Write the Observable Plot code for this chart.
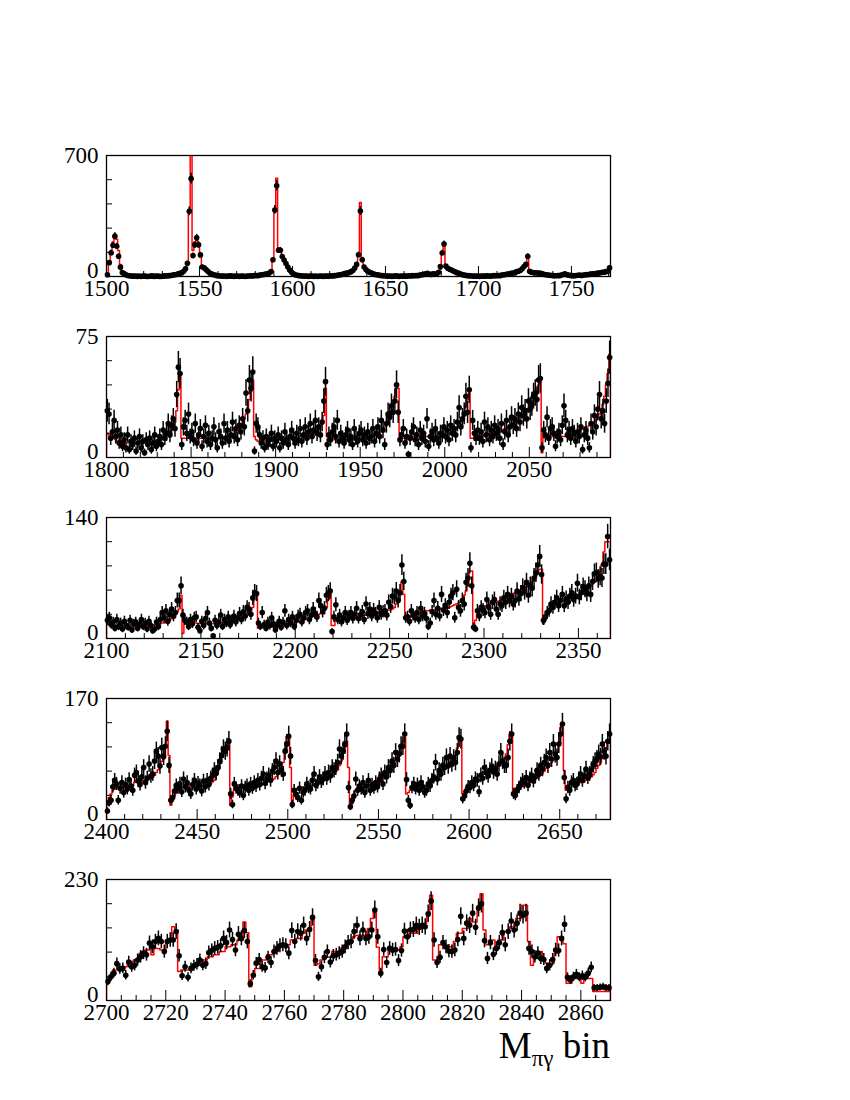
<!DOCTYPE html>
<html><head><meta charset="utf-8">
<script src="https://cdn.jsdelivr.net/npm/d3@7"></script>
<script src="https://cdn.jsdelivr.net/npm/@observablehq/plot@0.6"></script>
<style>
body{margin:0;background:#fff;}
#chart{position:relative;width:850px;height:1100px;padding-top:145px;box-sizing:border-box;}
#chart svg{display:block;}
</style></head><body><div id="chart"></div>
<script>
// ---- Panel 1: bins 1500..1770
const start1 = 1500, end1 = 1771, ymax1 = 700;
const xticks1 = [1500,1550,1600,1650,1700,1750];
const data1 = [10,80,136,181,233,175,117,54,23,15, 10,6,4,3,2,3,1,2,0,2, 3,1,0,2,4,1,2,3,1,0, 2,4,3,5,6,8,10,12,15,18,
 22,30,45,76,377,566,121,183,224,183, 125,55,50,40,30,20,15,10,8,5, 4,3,2,3,1,2,4,2,1,3, 2,1,3,2,0,2,3,4,3,5,
 6,5,8,10,12,14,16,20,29,97, 385,525,152,152,115,95,75,55,38,25, 15,10,7,5,4,3,2,3,1,2, 3,1,2,0,2,3,1,2,3,2,
 4,3,5,6,8,10,12,15,18,20, 23,28,35,49,70,126,379,97,55,40, 30,25,20,15,12,10,8,6,5,4, 3,2,3,1,2,4,2,1,3,2,
 3,2,4,3,5,4,6,5,8,10, 12,15,18,14,12,15,14,15,25,58, 136,188,60,48,42,38,32,27,22,18, 14,10,8,6,5,4,3,2,3,2,
 1,2,3,2,4,3,2,4,5,4, 6,5,8,10,12,14,16,18,20,22, 28,30,35,45,58,70,117,30,25,23, 22,20,20,18,15,12,10,8,7,6,
 5,4,6,5,8,12,15,10,8,6, 5,4,6,7,8,6,9,10,11,12, 14,15,15,18,20,22,25,25,28,30, 50];
const fit1 = [20,90,150,200,245,215,150,70,30,15, 8,5,4,3,3,2,2,2,2,2, 2,2,2,2,2,2,2,2,2,2, 3,3,4,4,5,6,7,9,11,14,
 18,25,40,80,380,720,150,200,230,190, 120,60,45,35,26,19,14,10,7,5, 4,3,3,2,2,2,2,2,2,2, 2,2,2,3,3,3,4,4,5,6,
 7,8,9,11,13,15,17,20,30,100, 390,568,160,150,120,95,72,52,36,24, 15,10,7,5,4,3,3,2,2,2, 2,2,2,2,2,3,3,3,4,4,
 5,6,7,8,10,11,13,15,17,20, 22,25,30,45,70,130,428,110,60,42, 32,24,18,12,10,8,6,5,4,3, 3,3,3,3,3,3,3,3,4,4,
 4,5,5,6,6,7,8,9,10,11, 12,13,14,15,16,17,18,20,30,40, 135,190,55,50,42,36,30,25,20,16, 12,10,8,6,5,4,4,3,3,3,
 3,3,4,4,4,5,5,6,6,7, 8,9,10,11,12,14,15,17,19,21, 24,27,30,40,55,70,110,35,28,24, 21,19,17,15,13,12,10,9,8,7,
 7,6,6,6,7,7,8,8,9,9, 10,10,11,11,12,12,13,14,14,15, 16,17,18,19,20,22,24,26,28,32, 55];

// ---- Panel 2: bins 1800..2097
const start2 = 1800, end2 = 2098, ymax2 = 75;
const xticks2 = [1800,1850,1900,1950,2000,2050];
const data2 = [29,27,12,16,23,13,17,9,14,7, 11,6,14,5,10,8,12,4,9,13, 6,10,3,11,8,12,5,9,14,7, 10,13,8,17,12,15,21,14,20,24,
 18,39,56,52,8,19,23,15,27,13, 16,11,21,9,14,18,7,13,20,10, 15,8,12,19,11,6,16,13,9,21, 12,17,10,14,22,13,18,11,20,16,
 24,19,40,29,48,43,53,4,21,19, 14,9,12,6,13,8,11,15,7,12, 10,14,6,12,9,16,11,8,13,17, 12,9,15,11,18,10,14,19,12,16,
 21,13,17,23,15,19,14,22,35,47, 8,14,11,16,19,13,23,10,15,12, 9,14,17,11,13,8,18,12,10,15, 17,11,14,9,16,12,13,18,10,15,
 19,13,23,17,8,21,27,25,32,28, 35,45,28,11,14,18,9,13,2,12, 16,19,11,14,8,17,12,15,10,24, 7,13,16,11,18,12,9,15,14,19,
 13,17,11,20,15,18,14,22,31,19, 24,27,38,28,42,6,23,15,12,17, 12,16,10,22,14,19,11,17,13,20, 15,18,12,21,8,16,23,14,19,25,
 20,24,18,27,22,31,26,29,24,35, 30,33,38,40,36,48,49,6,17,14, 25,12,18,19,15,7,13,16,11,20, 32,23,14,17,12,18,15,10,16,13,
 19,5,14,17,12,6,21,16,26,19, 30,39,24,29,21,35,46,62];
const fit2 = [15,14,13,12,12,11,10,10,10,10, 9,9,9,9,9,9,9,9,9,9, 9,9,9,9,9,9,10,10,10,10, 10,11,11,12,13,14,15,16,17,19,
 22,29,42,50,12,12,12,12,12,12, 12,12,12,12,12,12,12,12,12,12, 12,12,12,12,12,12,12,12,12,12, 12,13,13,13,14,14,15,16,17,19,
 21,24,27,31,36,41,48,13,11,10, 10,10,10,10,10,10,10,10,11,11, 11,11,11,11,11,11,12,12,12,12, 12,12,12,12,13,13,13,13,14,14,
 14,15,15,16,17,18,20,22,26,43, 13,12,11,11,11,11,11,11,11,11, 11,11,11,11,11,11,11,11,11,11, 11,11,11,12,12,12,13,13,14,14,
 15,15,16,17,19,21,23,26,29,33, 38,43,43,12,12,12,12,12,12,12, 13,13,13,13,13,13,13,13,13,13, 13,13,13,13,13,13,13,13,14,14,
 14,14,15,15,16,17,18,19,21,23, 25,28,32,36,40,12,12,12,13,13, 13,13,14,14,14,14,14,15,15,15, 15,16,16,17,17,18,18,19,20,21,
 21,22,23,24,25,26,27,28,29,30, 30,32,35,38,41,45,49,3,15,13, 13,13,13,13,13,13,13,13,13,13, 13,13,13,14,14,14,15,15,16,16,
 17,18,18,19,19,20,20,21,22,23, 25,27,29,33,38,45,52,64];

// ---- Panel 3: bins 2100..2366
const start3 = 2100, end3 = 2367, ymax3 = 140;
const xticks3 = [2100,2150,2200,2250,2300,2350];
const data3 = [21,24,16,19,12,22,14,18,11,20, 15,13,21,10,17,19,12,16,22,14, 18,11,20,15,9,11,19,14,22,30, 24,32,20,28,34,26,30,44,44,61,
 27,21,19,14,22,17,24,25,13,9, 20,15,23,30,18,12,3,21,15,19, 27,14,22,18,25,16,21,26,19,24, 29,22,31,26,36,34,28,47,53,52,
 18,14,30,16,12,19,15,24,17,10, 16,20,13,19,32,15,22,18,25,14, 21,26,28,19,24,30,32,22,27,34, 29,25,44,38,31,35,50,52,55,8,
 25,39,22,27,19,24,30,21,26,30, 23,28,35,23,27,31,22,40,29,34, 26,33,29,24,36,28,31,32,27,42, 37,49,48,55,44,53,85,66,24,25,
 20,32,27,24,30,22,35,26,29,23, 14,18,31,44,28,35,26,51,33,38, 30,42,49,53,24,57,36,32,44,40, 65,70,87,61,13,11,32,26,36,33,
 30,45,36,28,42,45,34,28,40,38, 47,42,51,44,49,40,44,55,46,52, 59,54,65,50,61,58,70,76,85,95, 74,21,25,30,32,40,36,42,47,38,
 44,51,38,46,42,49,53,45,49,64, 48,53,60,57,52,61,51,66,75,76, 69,72,70,86,86,118,91];
const fit3 = [17,16,15,15,15,15,15,15,15,15, 15,15,15,15,15,15,15,16,16,16, 16,16,16,16,16,16,17,17,17,18, 18,19,20,21,23,25,28,31,34,50,
 6,19,19,18,18,18,18,18,17,17, 17,17,17,17,17,17,17,17,18,18, 18,18,19,20,20,21,22,22,23,24, 24,25,26,27,28,30,32,36,50,50,
 12,12,13,13,13,13,13,13,14,14, 14,15,15,16,16,17,17,17,18,18, 19,19,20,21,22,22,23,24,25,26, 27,28,28,29,31,34,36,45,57,15,
 15,21,21,21,22,22,22,23,23,24, 24,25,25,25,26,26,27,27,28,28, 30,31,32,31,30,31,31,32,32,33, 33,34,36,40,46,51,66,51,23,23,
 24,25,26,27,28,28,30,31,32,32, 32,33,33,33,34,34,34,35,35,35, 35,36,37,38,39,40,41,42,44,50, 55,62,78,78,15,21,28,32,35,37,
 38,38,39,40,41,42,42,43,44,45, 46,47,48,50,51,52,53,54,55,56, 57,58,60,62,64,66,68,72,76,80, 80,17,22,28,32,36,38,40,41,42,
 42,43,44,45,46,47,48,49,50,51, 51,52,54,56,57,59,61,63,65,67, 70,78,86,100,112,112,112];

// ---- Panel 4: bins 2400..2677
const start4 = 2400, end4 = 2678, ymax4 = 170;
const xticks4 = [2400,2450,2500,2550,2600,2650];
const data4 = [12,24,27,46,55,50,27,44,52,38, 49,43,56,47,41,62,66,54,49,60, 73,52,58,78,61,64,82,96,89,75, 101,88,103,124,76,27,31,40,48,44,
 50,39,57,46,52,41,36,49,55,43, 51,48,40,54,46,55,49,58,62,69, 65,73,82,90,99,96,101,110,36,21, 50,44,41,38,47,34,45,48,41,50,
 44,52,47,55,49,58,64,51,57,62, 55,68,73,82,66,78,70,64,96,106, 117,89,21,41,35,31,44,27,38,41, 50,45,43,55,64,48,52,60,53,57,
 64,58,66,61,73,69,73,80,99,89, 96,105,120,45,18,27,33,57,41,47, 43,52,38,47,55,41,49,44,52,46, 57,62,50,66,60,73,69,82,76,94,
 85,92,103,103,120,56,27,20,45,50, 43,49,41,52,46,38,41,50,47,55, 60,80,57,69,64,76,73,87,75,89, 78,86,80,94,115,113,29,33,40,46,
 45,52,48,57,55,39,62,58,73,66, 61,69,74,67,71,64,78,94,82,76, 76,87,110,120,36,34,41,45,50,55, 52,59,48,57,62,54,60,69,64,76,
 71,80,87,76,94,85,106,92,87,106, 120,134,59,29,45,41,52,55,48,50, 57,64,55,61,71,59,64,70,77,82, 85,92,88,106,96,89,110,120];
const fit4 = [20,31,36,41,43,45,45,45,46,46, 50,46,46,47,47,52,54,55,55,55, 55,56,56,57,58,59,62,66,70,76, 82,92,105,138,90,20,27,33,37,41,
 44,45,45,45,45,45,45,45,45,46, 46,46,47,47,47,48,50,51,53,55, 62,69,78,87,97,103,108,113,20,32, 41,44,45,45,45,45,45,45,45,46,
 46,46,47,47,48,48,50,53,54,55, 56,56,57,60,63,66,69,80,99,117, 117,73,24,35,41,44,45,45,45,45, 45,46,47,48,55,55,55,55,55,55,
 55,56,58,60,62,64,67,70,76,82, 95,110,110,73,15,22,30,41,45,45, 45,46,46,46,47,47,47,48,48,50, 52,55,59,62,65,69,72,75,78,80,
 84,90,101,110,115,36,38,41,45,47, 47,47,47,47,47,47,47,48,48,52, 55,57,60,63,66,68,72,75,78,80, 82,85,90,100,115,115,36,40,45,50,
 51,52,53,54,57,60,63,66,67,68, 69,70,71,73,74,76,78,80,82,85, 92,105,120,120,36,44,45,45,46,46, 47,48,50,52,54,56,57,58,60,62,
 65,68,72,75,78,80,85,90,95,106, 129,129,69,41,48,50,50,50,50,51, 51,52,52,53,55,56,58,60,63,66, 72,76,80,86,92,100,110,110];

// ---- Panel 5: bins 2700..2869
const start5 = 2700, end5 = 2870, ymax5 = 230;
const xticks5 = [2700,2720,2740,2760,2780,2800,2820,2840,2860];
const data5 = [36,45,52,70,60,61,48,73,64,67, 77,83,90,87,109,102,112,118,112,93, 112,115,115,131,85,47,64,44,61,66, 69,77,67,70,91,95,99,101,104,118,
 110,134,116,96,126,118,133,112,32,48, 71,78,64,62,82,72,93,99,104,106, 104,90,133,112,131,128,143,118,135,158, 76,45,64,82,93,73,85,87,90,93,
 102,110,112,131,143,118,134,118,121,134, 172,121,52,97,72,99,96,97,76,95, 132,121,134,135,143,139,143,140,165,189, 115,72,82,110,102,94,93,96,116,160,
 118,147,143,166,139,176,184,114,80,110, 88,99,110,129,106,131,151,134,147,166, 162,166,99,93,83,90,80,78,61,67, 78,96,95,118,145,44,39,45,50,44,
 47,44,52,63,24,24,25,26,24,24];
const fit5 = [39,48,58,58,64,64,64,71,71,77, 77,90,90,96,96,87,99,99,96,96, 115,115,140,134,55,58,58,58,64,67, 67,67,77,77,83,83,87,87,93,93,
 102,102,106,106,115,115,149,129,26,45, 61,61,77,77,87,87,93,93,106,106, 106,106,115,115,118,118,128,134,134,153, 67,70,77,82,82,82,93,93,93,100,
 100,112,112,121,124,124,124,124,137,156, 172,101,58,83,83,96,96,96,96,102, 121,121,128,128,128,137,137,147,160,200, 77,77,106,106,102,102,102,112,128,128,
 137,137,156,149,149,178,203,134,106,115, 115,96,115,115,131,131,140,140,156,156, 181,181,112,67,82,93,93,77,71,71, 71,90,121,121,108,33,33,42,42,42,
 33,42,42,42,17,17,17,17,17,17];

const errScale = 1.3; // error bar half-length relative to sqrt(count)

const panels = [
  {start:start1, end:end1, ymax:ymax1, data:data1, fit:fit1, xticks:xticks1, minor:10},
  {start:start2, end:end2, ymax:ymax2, data:data2, fit:fit2, xticks:xticks2, minor:10},
  {start:start3, end:end3, ymax:ymax3, data:data3, fit:fit3, xticks:xticks3, minor:10},
  {start:start4, end:end4, ymax:ymax4, data:data4, fit:fit4, xticks:xticks4, minor:10},
  {start:start5, end:end5, ymax:ymax5, data:data5, fit:fit5, xticks:xticks5, minor:5}
];

const W = 850, H = 181, ML = 106, MR = 240, MT = 10, MB = 50;
const innerW = W - ML - MR, innerH = H - MT - MB;
const FONT = "'Liberation Serif', 'Times New Roman', serif";

function makePanel(p) {
  const n = p.data.length;
  const pts = p.data.map((v, i) => {
    const e = errScale * Math.sqrt(v);
    return {x: p.start + i + 0.5, y: v, lo: Math.max(0, v - e), hi: v + e};
  });
  const hist = [{x: p.start, y: 0}];
  p.fit.forEach((v, i) => hist.push({x: p.start + i, y: v}));
  hist.push({x: p.start + n, y: p.fit[n - 1]});
  hist.push({x: p.start + n, y: 0});
  const minorTicks = d3.range(p.start, p.end + 1e-9, p.minor).filter(t => !p.xticks.includes(t));
  const yMinor = d3.range(1, 5).map(k => k * p.ymax / 5);
  const span = p.end - p.start;
  return Plot.plot({
    width: W, height: H, marginLeft: ML, marginRight: MR, marginTop: MT, marginBottom: MB,
    x: {domain: [p.start, p.end], label: null},
    y: {domain: [0, p.ymax], label: null},
    style: {fontFamily: FONT, fontSize: "23px", color: "black", background: "white", overflow: "visible"},
    marks: [
      Plot.line(hist, {x: "x", y: "y", curve: "step-after", stroke: "#ff0000", strokeWidth: 1.5, clip: true}),
      Plot.ruleX(pts, {x: "x", y1: "lo", y2: "hi", stroke: "black", strokeWidth: 1.5}),
      Plot.dot(pts, {x: "x", y: "y", r: 2.8, fill: "black", stroke: "none"}),
      Plot.ruleX(p.xticks, {y1: 0, y2: p.ymax * 10 / innerH, stroke: "black"}),
      Plot.ruleX(minorTicks, {y1: 0, y2: p.ymax * 5 / innerH, stroke: "black"}),
      Plot.ruleY(yMinor, {x1: p.start, x2: p.start + span * 6 / innerW, stroke: "black"}),
      Plot.frame({stroke: "black", strokeWidth: 1.3}),
      Plot.axisX({ticks: p.xticks, tickSize: 0, tickPadding: 3, label: null, tickFormat: d => String(d)}),
      Plot.axisY({ticks: [p.ymax], tickSize: 0, tickPadding: 8, label: null, tickFormat: d => String(d)}),
      Plot.axisY({ticks: [0], tickSize: 0, tickPadding: 8, label: null, dy: -6, tickFormat: d => String(d)})
    ]
  });
}

const chart = document.getElementById("chart");
panels.forEach(p => chart.appendChild(makePanel(p)));

// x-axis title
const lab = d3.create("svg").attr("width", 850).attr("height", 90)
  .style("position", "absolute").style("left", "0px").style("top", "1000px");
const t = lab.append("text").attr("x", 610).attr("y", 58).attr("text-anchor", "end")
  .style("font-family", FONT).style("font-size", "37px")
  .style("white-space", "pre").attr("fill", "black");
t.append("tspan").text("M");
t.append("tspan").attr("dy", 8).style("font-size", "23px").text("πγ");
t.append("tspan").attr("dy", -8).text(" bin");
chart.appendChild(lab.node());
</script>
</body></html>
